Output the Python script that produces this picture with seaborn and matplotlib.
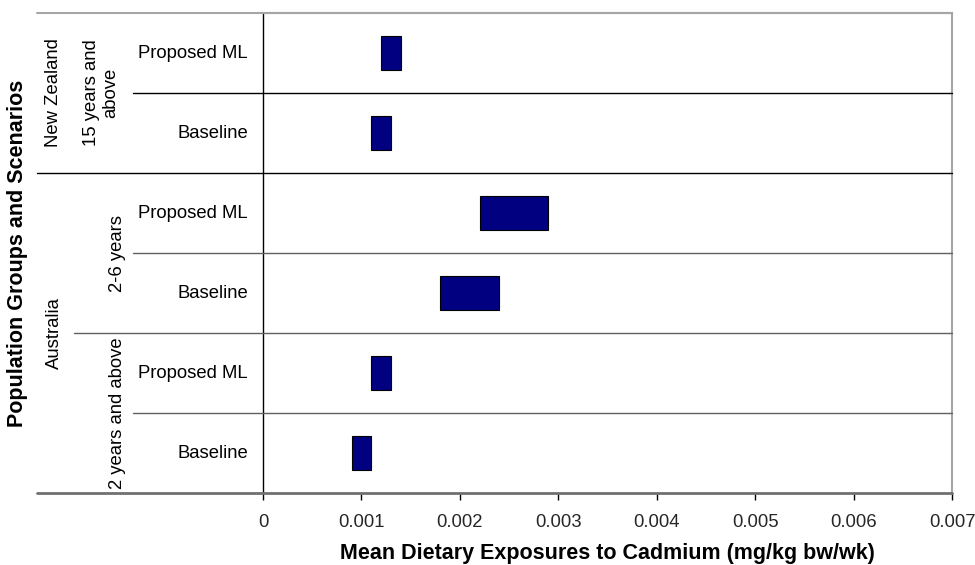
import matplotlib
matplotlib.use("Agg")
import matplotlib.pyplot as plt
from matplotlib.lines import Line2D
from matplotlib.transforms import blended_transform_factory
import pandas as pd
import seaborn as sns

# Exposure ranges (lower and upper mean dietary exposure, mg/kg bw/wk), top to bottom
row_ids = ["nz15_ml", "nz15_base", "au26_ml", "au26_base", "au2_ml", "au2_base"]
scenarios = ["Proposed ML", "Baseline", "Proposed ML", "Baseline", "Proposed ML", "Baseline"]
low = [0.0012, 0.0011, 0.0022, 0.0018, 0.0011, 0.0009]
high = [0.0014, 0.0013, 0.0029, 0.0024, 0.0013, 0.0011]

# Population groups (label, first row, last row) and countries
age_groups = [("15 years and\nabove", 0, 1), ("2-6 years", 2, 3), ("2 years and above", 4, 5)]
countries = [("New Zealand", 0, 1), ("Australia", 2, 5)]

x_ticks = [0, 0.001, 0.002, 0.003, 0.004, 0.005, 0.006, 0.007]
x_tick_labels = ["0", "0.001", "0.002", "0.003", "0.004", "0.005", "0.006", "0.007"]

sns.set_theme(style="white")
plt.rcParams["font.family"] = ["Liberation Sans", "DejaVu Sans"]

FS = 13.3

df = pd.DataFrame({
    "row": row_ids,
    "low": low,
    "span": [h - l for h, l in zip(high, low)],
})

W, H = 975, 565
fig = plt.figure(figsize=(W / 100, H / 100), dpi=100)
left_px, right_px, top_px, bottom_px = 263, 952, 13, 493
ax = fig.add_axes([left_px / W, 1 - bottom_px / H,
                   (right_px - left_px) / W, (bottom_px - top_px) / H])

sns.barplot(data=df, x="span", y="row", order=row_ids, left=df["low"].values,
            color="#000080", saturation=1, width=0.42,
            edgecolor="black", linewidth=0.8, ax=ax)

ax.set_xlim(0, 0.007)
ax.set_ylim(len(row_ids) - 0.5, -0.5)
ax.set_xticks(x_ticks)
ax.set_xticklabels(x_tick_labels, fontsize=FS)
ax.set_yticks([])
ax.tick_params(axis="x", direction="out", length=5, width=1, color="black", pad=10, bottom=True)

for side in ["top", "right"]:
    ax.spines[side].set_visible(True)
    ax.spines[side].set_color("#a6a6a6")
    ax.spines[side].set_linewidth(1.5)
ax.spines["left"].set_color("black")
ax.spines["left"].set_linewidth(1)
ax.spines["bottom"].set_visible(False)

trans = blended_transform_factory(fig.transFigure, ax.transData)
x_end = right_px / W

def hline(y, x0_px, color, lw):
    fig.add_artist(Line2D([x0_px / W, x_end], [y, y], transform=trans,
                          color=color, linewidth=lw, clip_on=False, zorder=5))

# Row boundaries: full width between countries, shorter within groups
hline(-0.5, 37, "#a6a6a6", 1.5)
hline(0.5, 133, "black", 1)
hline(1.5, 37, "black", 1)
hline(2.5, 133, "#606060", 1)
hline(3.5, 74, "#606060", 1)
hline(4.5, 133, "#606060", 1)
hline(5.5, 37, "#707070", 2)

# Scenario labels
for i, s in enumerate(scenarios):
    fig.text(248 / W, 0, s, transform=trans, ha="right", va="center",
             fontsize=FS, color="black").set_y(i)

# Population group labels
for label, r0, r1 in age_groups:
    t = fig.text(118 / W, 0, label, transform=trans, rotation=90,
                 ha="center", va="center", multialignment="center",
                 fontsize=FS, color="black", linespacing=1.2)
    t.set_y((r0 + r1) / 2)
    if "\n" in label:
        t.set_x(101 / W)

for label, r0, r1 in countries:
    t = fig.text(54 / W, 0, label, transform=trans, rotation=90,
                 ha="center", va="center", fontsize=FS, color="black")
    t.set_y((r0 + r1) / 2)

ax.set_xlabel("Mean Dietary Exposures to Cadmium (mg/kg bw/wk)",
              fontsize=15.5, fontweight="bold", color="black")
ax.xaxis.set_label_coords(0.5, (bottom_px - 553) / (bottom_px - top_px))
ax.set_ylabel("Population Groups and Scenarios",
              fontsize=15.5, fontweight="bold", color="black")
ax.yaxis.set_label_coords((18 - left_px) / (right_px - left_px), 0.5)
ax.xaxis.label.set_va("center")
ax.yaxis.label.set_va("center")

fig.savefig("out.png", dpi=100, facecolor="white")
